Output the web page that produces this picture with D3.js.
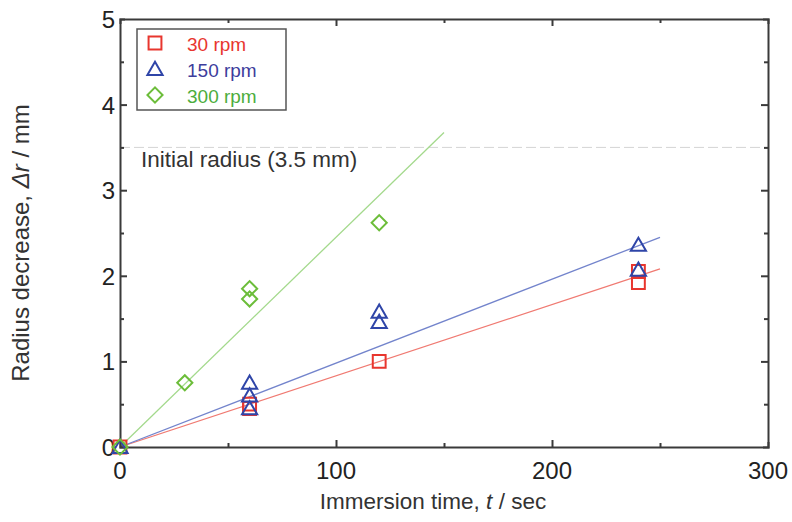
<!DOCTYPE html>
<html>
<head>
<meta charset="utf-8">
<script src="https://cdn.jsdelivr.net/npm/d3@7"></script>
<style>
  body { margin: 0; background: #fff; }
  svg { font-family: "Liberation Sans", Arial, sans-serif; }
</style>
</head>
<body>
<svg id="drawing_region"></svg>
<script>
// data
const seriesNames = ["30 rpm", "150 rpm", "300 rpm"];
const t30 = [0, 60, 60, 120, 240, 240];
const r30 = [0, 0.50, 0.45, 1.00, 2.05, 1.92];
const t150 = [0, 60, 60, 60, 120, 120, 240, 240];
const r150 = [0, 0.75, 0.60, 0.45, 1.58, 1.46, 2.36, 2.07];
const t300 = [0, 30, 60, 60, 120];
const r300 = [0, 0.75, 1.85, 1.73, 2.62];
// fitted lines through origin: slope (mm/sec) and end time
const fitSlopes = [0.00832, 0.0098, 0.0245];
const fitEnds = [250, 250, 150];
const initialRadius = 3.5;
const xTicks = [0, 100, 200, 300];
const yTicks = [0, 1, 2, 3, 4, 5];

const config = {
    width: 792, height: 522,
    margin: {top: 19, right: 24, bottom: 75, left: 120}
};
const markColors = ["#e8362e", "#2f45a8", "#6cbd3a"];
const lineColors = ["#f07a72", "#7384cc", "#a3d98c"];
const textColors = ["#e8362e", "#3d3d9c", "#4cad3c"];

const svg = d3.select('#drawing_region')
    .attr('width', config.width)
    .attr('height', config.height);

const iw = config.width - config.margin.left - config.margin.right;
const ih = config.height - config.margin.top - config.margin.bottom;

const chart = svg.append('g')
    .attr('transform', `translate(${config.margin.left}, ${config.margin.top})`);

const xscale = d3.scaleLinear().domain([0, 300]).range([0, iw]);
const yscale = d3.scaleLinear().domain([0, 5]).range([ih, 0]);

const axisColor = "#3a3a3a";

// initial radius dashed line
chart.append('line')
    .attr('x1', 0).attr('x2', iw)
    .attr('y1', yscale(initialRadius)).attr('y2', yscale(initialRadius))
    .attr('stroke', '#d4d4d4')
    .attr('stroke-width', 1)
    .attr('stroke-dasharray', '10,4');

chart.append('text')
    .attr('x', 21)
    .attr('y', yscale(initialRadius) + 20)
    .attr('font-size', 22.5)
    .attr('fill', '#333')
    .text('Initial radius (3.5 mm)');

// fit lines
fitSlopes.forEach((s, i) => {
    chart.append('line')
        .attr('x1', xscale(0)).attr('y1', yscale(0))
        .attr('x2', xscale(fitEnds[i])).attr('y2', yscale(s * fitEnds[i]))
        .attr('stroke', lineColors[i])
        .attr('stroke-width', 1.3);
});

// axes (ticks pointing inward on all four sides)
const gxb = chart.append('g').attr('transform', `translate(0, ${ih})`)
    .call(d3.axisTop(xscale).tickValues(d3.range(0, 301, 50)).tickFormat('').tickSizeOuter(0).tickSize(5));
const gxt = chart.append('g')
    .call(d3.axisBottom(xscale).tickValues(d3.range(0, 301, 50)).tickFormat('').tickSizeOuter(0).tickSize(5));
const gyl = chart.append('g')
    .call(d3.axisRight(yscale).tickValues(d3.range(0, 5.01, 0.5)).tickFormat('').tickSizeOuter(0).tickSize(5));
const gyr = chart.append('g').attr('transform', `translate(${iw}, 0)`)
    .call(d3.axisLeft(yscale).tickValues(d3.range(0, 5.01, 0.5)).tickFormat('').tickSizeOuter(0).tickSize(5));

[gxb, gxt].forEach(g => g.selectAll('.tick line')
    .attr('y2', d => (d % 100 === 0 ? 7 : 4) * (g === gxb ? -1 : 1)));
[gyl, gyr].forEach(g => g.selectAll('.tick line')
    .attr('x2', d => (Math.abs(d % 1) < 1e-6 ? 7 : 4) * (g === gyl ? 1 : -1)));

[gxb, gxt, gyl, gyr].forEach(g => {
    g.selectAll('.domain').attr('stroke', axisColor).attr('stroke-width', 2);
    g.selectAll('.tick line').attr('stroke', axisColor).attr('stroke-width', 2);
    g.selectAll('.tick').filter(d => d === 0 || d === 300 || d === 5).select('line').remove();
});

// tick labels
chart.append('g').selectAll('text').data(xTicks).join('text')
    .attr('x', d => xscale(d))
    .attr('y', ih + 32)
    .attr('text-anchor', 'middle')
    .attr('font-size', 24)
    .attr('fill', '#222')
    .text(d => d);

chart.append('g').selectAll('text').data(yTicks).join('text')
    .attr('x', -5)
    .attr('y', d => yscale(d) + 9)
    .attr('text-anchor', 'end')
    .attr('font-size', 24)
    .attr('fill', '#222')
    .text(d => d);

// axis titles
const xt = svg.append('text')
    .attr('x', 433)
    .attr('y', 509)
    .attr('text-anchor', 'middle')
    .attr('font-size', 22.5)
    .attr('fill', '#333');
xt.append('tspan').text('Immersion time, ');
xt.append('tspan').attr('font-style', 'italic').text('t');
xt.append('tspan').text(' / sec');

const yt = svg.append('text')
    .attr('transform', `translate(29, 243) rotate(-90)`)
    .attr('text-anchor', 'middle')
    .attr('font-size', 24)
    .attr('fill', '#333');
yt.append('tspan').text('Radius decrease, ');
yt.append('tspan').attr('font-style', 'italic').text('\u0394r');
yt.append('tspan').text(' / mm');

// markers: square, triangle, diamond (square turned 45 degrees)
const sym = [d3.symbolSquare, d3.symbolTriangle, d3.symbolSquare];
const symSize = [165, 100, 115];

function drawMarker(g, i, x, y) {
    const p = g.append('path')
        .attr('d', d3.symbol().type(sym[i]).size(symSize[i])())
        .attr('fill', 'none')
        .attr('stroke', markColors[i])
        .attr('stroke-width', 2);
    if (i === 2) p.attr('transform', `translate(${x}, ${y}) rotate(45)`);
    else if (i === 1) p.attr('transform', `translate(${x}, ${y + 1.5})`);
    else p.attr('transform', `translate(${x}, ${y})`);
}

const series = [[t30, r30], [t150, r150], [t300, r300]];
series.forEach(([ts, rs], i) => {
    const g = chart.append('g');
    ts.forEach((t, k) => drawMarker(g, i, xscale(t), yscale(rs[k])));
});

// legend
const legend = svg.append('g').attr('transform', 'translate(137, 29)');
legend.append('rect')
    .attr('width', 149).attr('height', 81)
    .attr('fill', '#fff')
    .attr('stroke', '#555')
    .attr('stroke-width', 1.5);
seriesNames.forEach((name, i) => {
    const y = 14 + i * 26;
    drawMarker(legend, i, 18, y);
    legend.append('text')
        .attr('x', 50).attr('y', y + 8)
        .attr('font-size', 19)
        .attr('fill', textColors[i])
        .text(name);
});
</script>
</body>
</html>
